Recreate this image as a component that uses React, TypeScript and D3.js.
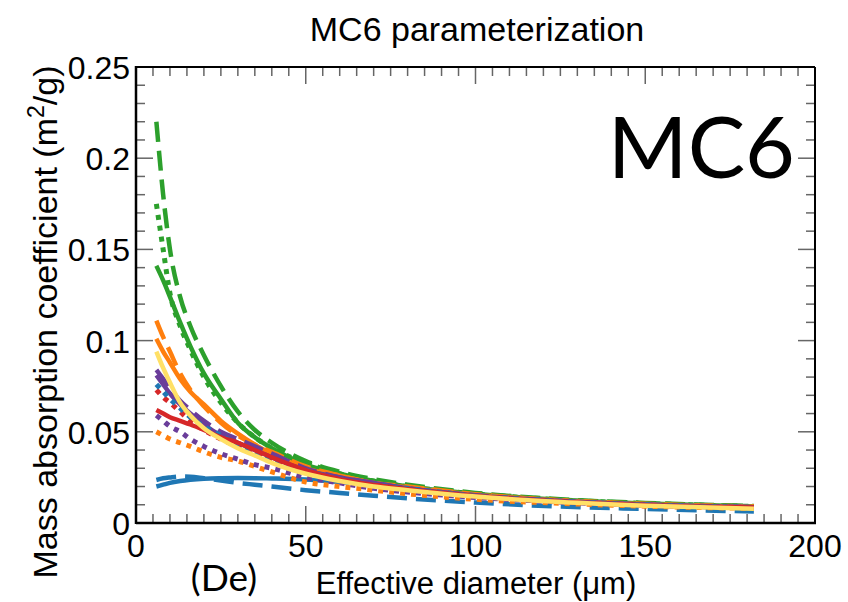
import React from "react";
import * as d3 from "d3";

// Effective diameter grid (µm)
const diameters = [6, 8, 10, 13, 16, 20, 25, 30, 35, 40, 50, 60, 70, 80, 100, 125, 150, 182];

// Mass absorption coefficient (m^2/g) per series
const blueSolid = [0.020, 0.021, 0.022, 0.023, 0.0237, 0.0243, 0.0246, 0.0247, 0.0246, 0.0244, 0.0238, 0.0225, 0.021, 0.019, 0.0155, 0.0123, 0.0103, 0.0088];
const blueDashed = [0.0236, 0.0245, 0.025, 0.0255, 0.0254, 0.0245, 0.0233, 0.022, 0.021, 0.020, 0.018, 0.0165, 0.015, 0.0135, 0.0112, 0.009, 0.0077, 0.0063];
const blueDotted = [0.076, 0.072, 0.068, 0.063, 0.058, 0.053, 0.048, 0.043, 0.039, 0.035, 0.029, 0.024, 0.021, 0.019, 0.015, 0.012, 0.010, 0.0086];
const orangeSolid = [0.101, 0.094, 0.088, 0.079, 0.072, 0.065, 0.056, 0.049, 0.043, 0.038, 0.030, 0.026, 0.022, 0.0195, 0.0155, 0.0123, 0.0103, 0.0089];
const orangeDashed = [0.111, 0.102, 0.094, 0.082, 0.073, 0.064, 0.055, 0.048, 0.043, 0.039, 0.031, 0.026, 0.022, 0.020, 0.0158, 0.0125, 0.0105, 0.009];
const orangeDotted = [0.050, 0.048, 0.046, 0.044, 0.042, 0.039, 0.036, 0.034, 0.031, 0.028, 0.0225, 0.020, 0.018, 0.016, 0.013, 0.0108, 0.0092, 0.008];
const greenSolid = [0.141, 0.133, 0.124, 0.110, 0.097, 0.082, 0.068, 0.055, 0.047, 0.041, 0.032, 0.027, 0.023, 0.020, 0.016, 0.0127, 0.0107, 0.0091];
const greenDashed = [0.220, 0.180, 0.150, 0.124, 0.108, 0.092, 0.075, 0.061, 0.051, 0.044, 0.034, 0.028, 0.024, 0.021, 0.0165, 0.013, 0.011, 0.0093];
const greenDotted = [0.175, 0.150, 0.126, 0.108, 0.095, 0.080, 0.066, 0.055, 0.047, 0.041, 0.033, 0.027, 0.023, 0.020, 0.016, 0.0127, 0.0107, 0.0091];
const redSolid = [0.062, 0.060, 0.058, 0.056, 0.054, 0.051, 0.047, 0.044, 0.040, 0.036, 0.029, 0.024, 0.021, 0.0185, 0.0148, 0.0118, 0.0098, 0.0085];
const redDotted = [0.073, 0.069, 0.066, 0.061, 0.056, 0.051, 0.046, 0.042, 0.038, 0.034, 0.028, 0.024, 0.021, 0.0185, 0.0148, 0.0118, 0.0098, 0.0085];
const purpleSolid = [0.081, 0.076, 0.071, 0.065, 0.060, 0.054, 0.048, 0.044, 0.040, 0.036, 0.029, 0.025, 0.022, 0.019, 0.015, 0.012, 0.010, 0.0086];
const purpleDashed = [0.084, 0.079, 0.074, 0.067, 0.062, 0.056, 0.050, 0.046, 0.042, 0.038, 0.030, 0.025, 0.022, 0.019, 0.0152, 0.0121, 0.0101, 0.0087];
const purpleDotted = [0.059, 0.056, 0.053, 0.050, 0.046, 0.042, 0.038, 0.035, 0.032, 0.030, 0.025, 0.022, 0.019, 0.017, 0.014, 0.0115, 0.0097, 0.0084];
const yellowSolid = [0.094, 0.085, 0.077, 0.066, 0.059, 0.052, 0.046, 0.041, 0.037, 0.033, 0.027, 0.023, 0.020, 0.018, 0.0145, 0.0115, 0.0095, 0.0078];

const xTickLabels = [0, 50, 100, 150, 200];
const yTickLabels = [0, 0.05, 0.1, 0.15, 0.2, 0.25];

const BLUE = "#1f77b4";
const ORANGE = "#ff7f0e";
const GREEN = "#2ca02c";
const RED = "#d62728";
const PURPLE = "#6a3d9a";
const YELLOW = "#ffe066";

type Series = { values: number[]; color: string; style: "solid" | "dashed" | "dotted" };

const series: Series[] = [
  { values: blueSolid, color: BLUE, style: "solid" },
  { values: blueDashed, color: BLUE, style: "dashed" },
  { values: orangeDotted, color: ORANGE, style: "dotted" },
  { values: purpleDotted, color: PURPLE, style: "dotted" },
  { values: greenDashed, color: GREEN, style: "dashed" },
  { values: greenDotted, color: GREEN, style: "dotted" },
  { values: greenSolid, color: GREEN, style: "solid" },
  { values: orangeDashed, color: ORANGE, style: "dashed" },
  { values: orangeSolid, color: ORANGE, style: "solid" },
  { values: redDotted, color: RED, style: "dotted" },
  { values: purpleDashed, color: PURPLE, style: "dashed" },
  { values: purpleSolid, color: PURPLE, style: "solid" },
  { values: blueDotted, color: BLUE, style: "dotted" },
  { values: redSolid, color: RED, style: "solid" },
  { values: yellowSolid, color: YELLOW, style: "solid" },
];

const W = 848;
const H = 602;
const left = 136;
const right = 815;
const top = 67;
const bottom = 523;

export default function App() {
  const x = d3.scaleLinear().domain([0, 200]).range([left, right]);
  const y = d3.scaleLinear().domain([0, 0.25]).range([bottom, top]);
  const line = d3
    .line<number>()
    .x((_, i) => x(diameters[i]))
    .y((v) => y(v))
    .curve(d3.curveMonotoneX);

  const xMinor = d3.range(5, 200, 5);
  const yMinor = d3.range(1, 25).map((k) => k / 100);
  const font = "'Liberation Sans', Arial, Helvetica, sans-serif";

  const dash = (s: Series["style"]) =>
    s === "dashed" ? "20 9" : s === "dotted" ? "5 6" : undefined;

  return (
    <svg
      width={W}
      height={H}
      style={{ position: "absolute", left: 0, top: 0, background: "#fff" }}
      fontFamily={font}
    >
      <rect width={W} height={H} fill="#fff" />
      <defs>
        <clipPath id="plotclip">
          <rect x={left} y={top} width={right - left} height={bottom - top} />
        </clipPath>
      </defs>

      {/* ticks */}
      <g stroke="#666" strokeWidth={1.5}>
        {xMinor.map((t) => {
          const major = t % 50 === 0;
          const len = major ? 17 : 9;
          return (
            <g key={"xt" + t}>
              <line x1={x(t)} x2={x(t)} y1={bottom} y2={bottom - len} />
              <line x1={x(t)} x2={x(t)} y1={top} y2={top + len} />
            </g>
          );
        })}
        {yMinor.map((t) => {
          const major = Math.round(t * 100) % 5 === 0;
          const len = major ? 17 : 9;
          return (
            <g key={"yt" + t}>
              <line x1={left} x2={left + len} y1={y(t)} y2={y(t)} />
              <line x1={right} x2={right - len} y1={y(t)} y2={y(t)} />
            </g>
          );
        })}
      </g>

      {/* curves */}
      <g clipPath="url(#plotclip)" fill="none">
        {series.map((s, i) => (
          <path
            key={i}
            d={line(s.values) || ""}
            stroke={s.color}
            strokeWidth={s.style === "dotted" ? 5 : 4.5}
            strokeDasharray={dash(s.style)}
            strokeLinecap="butt"
          />
        ))}
      </g>

      {/* frame */}
      <g stroke="#000" fill="none">
        <line x1={left} x2={right} y1={top} y2={top} strokeWidth={2} />
        <line x1={right} x2={right} y1={top} y2={bottom} strokeWidth={2} />
        <line x1={left} x2={right + 1} y1={bottom} y2={bottom} strokeWidth={2.5} />
        <line x1={left} x2={left} y1={top - 1} y2={bottom + 1} strokeWidth={2.5} />
      </g>

      {/* tick labels */}
      <g fontSize={32} fill="#000">
        {xTickLabels.map((t) => (
          <text key={"xl" + t} x={x(t)} y={557} textAnchor="middle">
            {t}
          </text>
        ))}
        {yTickLabels.map((t) => (
          <text key={"yl" + t} x={130} y={y(t) + 12} textAnchor="end">
            {t}
          </text>
        ))}
      </g>

      {/* title */}
      <text x={477} y={41} textAnchor="middle" fontSize={34} fill="#000">
        MC6 parameterization
      </text>

      {/* axis labels */}
      <text x={476} y={594} textAnchor="middle" fontSize={31} fill="#000">
        Effective diameter (μm)
      </text>
      <text
        transform={`translate(57, 322) rotate(-90)`}
        textAnchor="middle"
        fontSize={34}
        fill="#000"
      >
        Mass absorption coefficient (m
        <tspan dy={-13} fontSize={23}>2</tspan>
        <tspan dy={13}>/g)</tspan>
      </text>

      {/* annotations */}
      <text x={224} y={591} textAnchor="middle" fontSize={37} fontFamily="Lato, 'Open Sans', sans-serif" fill="#000">
        (De)
      </text>
      <text x={795} y={178} textAnchor="end" fontSize={86} fontFamily="Lato, 'Open Sans', sans-serif" fill="#000">
        MC6
      </text>
    </svg>
  );
}
